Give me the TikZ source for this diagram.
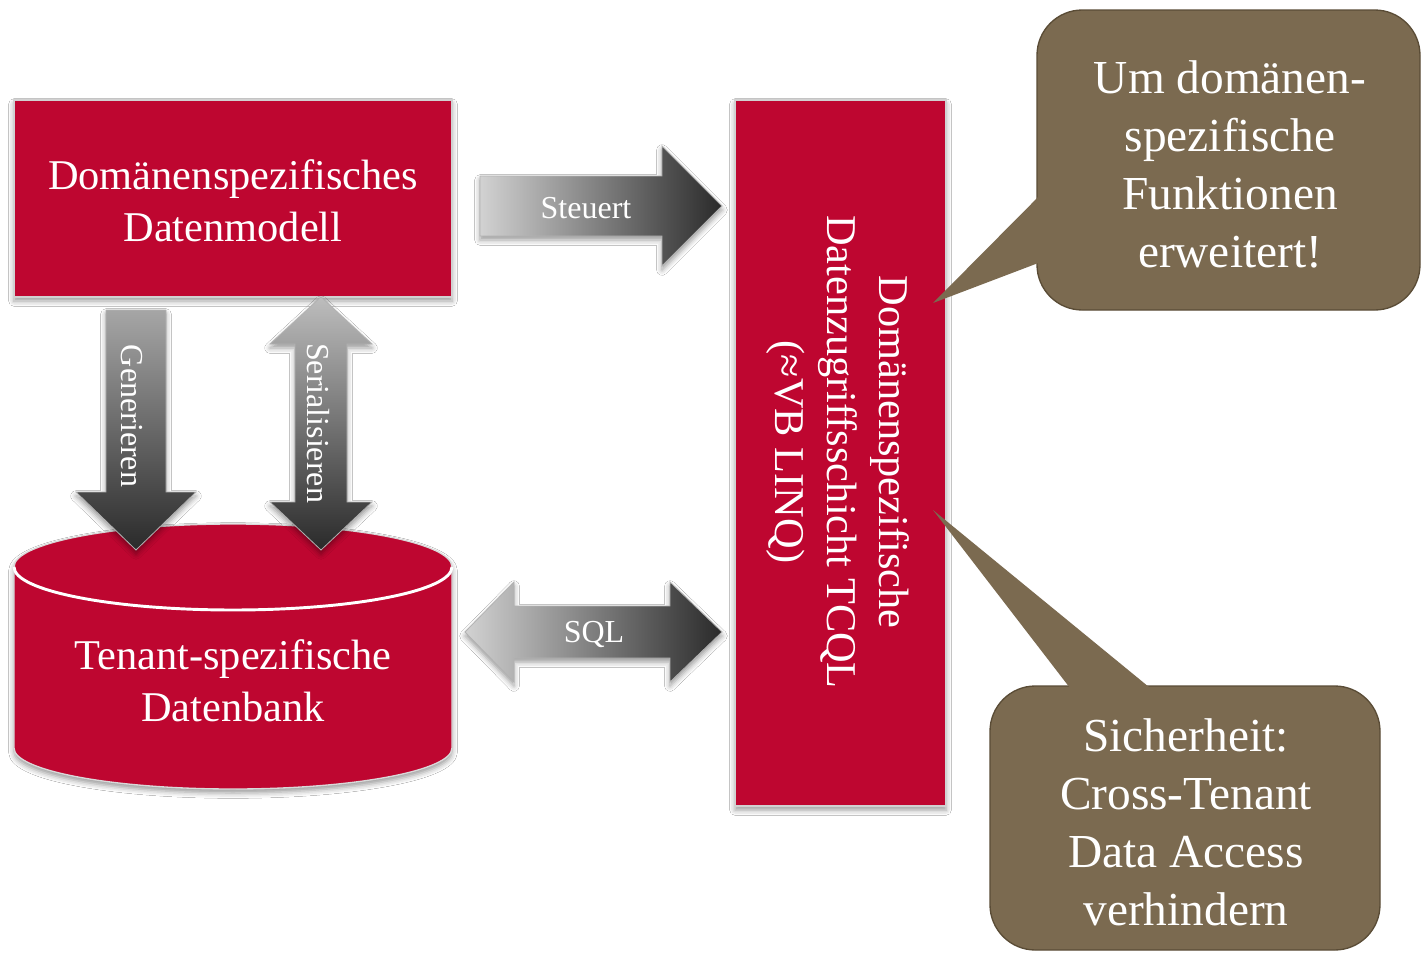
\documentclass[tikz,border=0pt]{standalone}
\usepackage{fontspec}
\setmainfont{Liberation Serif}[Ligatures=NoCommon]
\usetikzlibrary{calc,shadows.blur}

\definecolor{boxred}{HTML}{BE0630}
\definecolor{talk}{HTML}{7B6A50}
\definecolor{talkdark}{HTML}{5A4C36}
\definecolor{arrlight}{HTML}{D2D2D2}
\definecolor{arrmid}{HTML}{A6A6A6}
\definecolor{arrdark}{HTML}{2A2A2A}

\tikzset{
  softshadow/.style={blur shadow={shadow xshift=0pt, shadow yshift=-3pt,
      shadow blur radius=4pt, shadow opacity=40}},
  redbox/.style={fill=boxred, draw=black!18, line width=1.2pt, text=white,
      align=center, inner sep=0pt, font=\fontsize{31.8}{39}\selectfont, softshadow},
  redtext/.style={text=white, align=center, inner sep=0pt,
      font=\fontsize{31.8}{39}\selectfont},
  bubble/.style={fill=talk, draw=talkdark, line width=1pt, rounded corners=34pt,
      text=white, align=center, inner sep=0pt, font=\fontsize{35.5}{43.5}\selectfont},
  wedge/.style={fill=talk},
  blockarrow/.style={draw=black!30, line width=0.6pt, softshadow},
  arrowlbl/.style={text=white, inner sep=0pt, font=\fontsize{24}{28}\selectfont},
}

% right-pointing block arrow from tail #1 to tip #2
\newcommand\blockR[2]{($(#1)+(0,-30)$) -- ($(#2)+(-60,-30)$) -- ($(#2)+(-60,-60)$) -- (#2)
  -- ($(#2)+(-60,60)$) -- ($(#2)+(-60,30)$) -- ($(#1)+(0,30)$) -- cycle}
% downward block arrow from tail #1 to tip #2
\newcommand\blockD[2]{($(#1)+(-30,0)$) -- ($(#2)+(-30,-58)$) -- ($(#2)+(-60,-58)$) -- (#2)
  -- ($(#2)+(60,-58)$) -- ($(#2)+(30,-58)$) -- ($(#1)+(30,0)$) -- cycle}
% horizontal double block arrow between tips #1 (left) and #2 (right)
\newcommand\blockLR[2]{(#1) -- ($(#1)+(49,-50)$) -- ($(#1)+(49,-26)$) -- ($(#2)+(-52,-26)$)
  -- ($(#2)+(-52,-50)$) -- (#2) -- ($(#2)+(-52,50)$) -- ($(#2)+(-52,26)$)
  -- ($(#1)+(49,26)$) -- ($(#1)+(49,50)$) -- cycle}
% vertical double block arrow between tips #1 (top) and #2 (bottom)
\newcommand\blockUD[2]{(#1) -- ($(#1)+(51,47)$) -- ($(#1)+(26,47)$) -- ($(#2)+(26,-48)$)
  -- ($(#2)+(51,-48)$) -- (#2) -- ($(#2)+(-51,-48)$) -- ($(#2)+(-26,-48)$)
  -- ($(#1)+(-26,47)$) -- ($(#1)+(-51,47)$) -- cycle}

\begin{document}
\begin{tikzpicture}[x=0.75pt, y=-0.75pt]
  \useasboundingbox[fill=white] (0,0) rectangle (1422,953);

  % domain data model
  \node[redbox, minimum width=328.5pt, minimum height=147.75pt] (dm) at (233,198.5) {};
  \node[redtext] (dmtext) at (233,201) {Domänenspezifisches\\Datenmodell};

  % tenant database (cylinder)
  \fill[boxred, softshadow] (14,567) -- (14,748)
    arc[start angle=180, end angle=0, x radius=219, y radius=41] -- (452,567)
    arc[start angle=0, end angle=-180, x radius=219, y radius=43] -- cycle;
  \draw[black!15, line width=1pt] (14,567) -- (14,748)
    arc[start angle=180, end angle=0, x radius=219, y radius=41] -- (452,567)
    arc[start angle=0, end angle=-180, x radius=219, y radius=43] -- cycle;
  \draw[white, line width=2.2pt] (14,567)
    arc[start angle=180, end angle=0, x radius=219, y radius=43];
  \node[redtext] (db) at (233,681) {Tenant-spezifische\\Datenbank};

  % data access layer
  \node[redbox, minimum width=158.25pt, minimum height=529.5pt] (tcql) at (840.5,453) {};
  \node[redtext, rotate=-90] (tcqltext) at (838,452)
    {Domänenspezifische\\Datenzugriffsschicht TCQL\\(≈VB LINQ)};

  % arrow end points
  \coordinate (st-a) at (480,206);
  \coordinate (st-b) at (722,206);
  \coordinate (sq-a) at (465,632);
  \coordinate (sq-b) at (722,632);
  \coordinate (ge-a) at (136,310);
  \coordinate (ge-b) at (136,550);
  \coordinate (se-a) at (321,297);
  \coordinate (se-b) at (321,550);

  % Steuert
  \shade[blockarrow, left color=arrlight, right color=arrdark] \blockR{st-a}{st-b};
  \node[arrowlbl] (stlbl) at (586,208) {Steuert};

  % SQL
  \shade[blockarrow, left color=arrlight, right color=arrdark] \blockLR{sq-a}{sq-b};
  \node[arrowlbl] (sqlbl) at (594,634) {SQL};

  % Generieren
  \shade[blockarrow, top color=arrmid, bottom color=arrdark] \blockD{ge-a}{ge-b};
  \node[arrowlbl, rotate=-90] (gelbl) at (132,416) {Generieren};

  % Serialisieren
  \shade[blockarrow, top color=arrlight!90!black, bottom color=arrdark] \blockUD{se-a}{se-b};
  \node[arrowlbl, rotate=-90] (selbl) at (318,423) {Serialisieren};

  % callout: domain-specific functions
  \node[bubble, minimum width=287.25pt, minimum height=225pt] (c1) at (1228.5,160) {};
  \node[text=white, align=center, inner sep=0pt, font=\fontsize{35.5}{43.5}\selectfont]
    (c1text) at (1230,164) {Um domänen-\\spezifische\\Funktionen\\erweitert!};
  \coordinate (c1-tip) at (933,303);
  \fill[wedge] (c1-tip) -- (1062,173) -- (1062,254) -- cycle;

  % callout: security
  \node[bubble, minimum width=292.5pt, minimum height=198pt] (c2) at (1185,818) {};
  \node[text=white, align=center, inner sep=0pt, font=\fontsize{35.5}{43.5}\selectfont]
    (c2text) at (1186,822) {Sicherheit:\\Cross-Tenant\\Data Access\\verhindern};
  \coordinate (c2-tip) at (933,510);
  \fill[wedge] (c2-tip) -- (1080,701) -- (1166,701) -- cycle;
\end{tikzpicture}
\end{document}
